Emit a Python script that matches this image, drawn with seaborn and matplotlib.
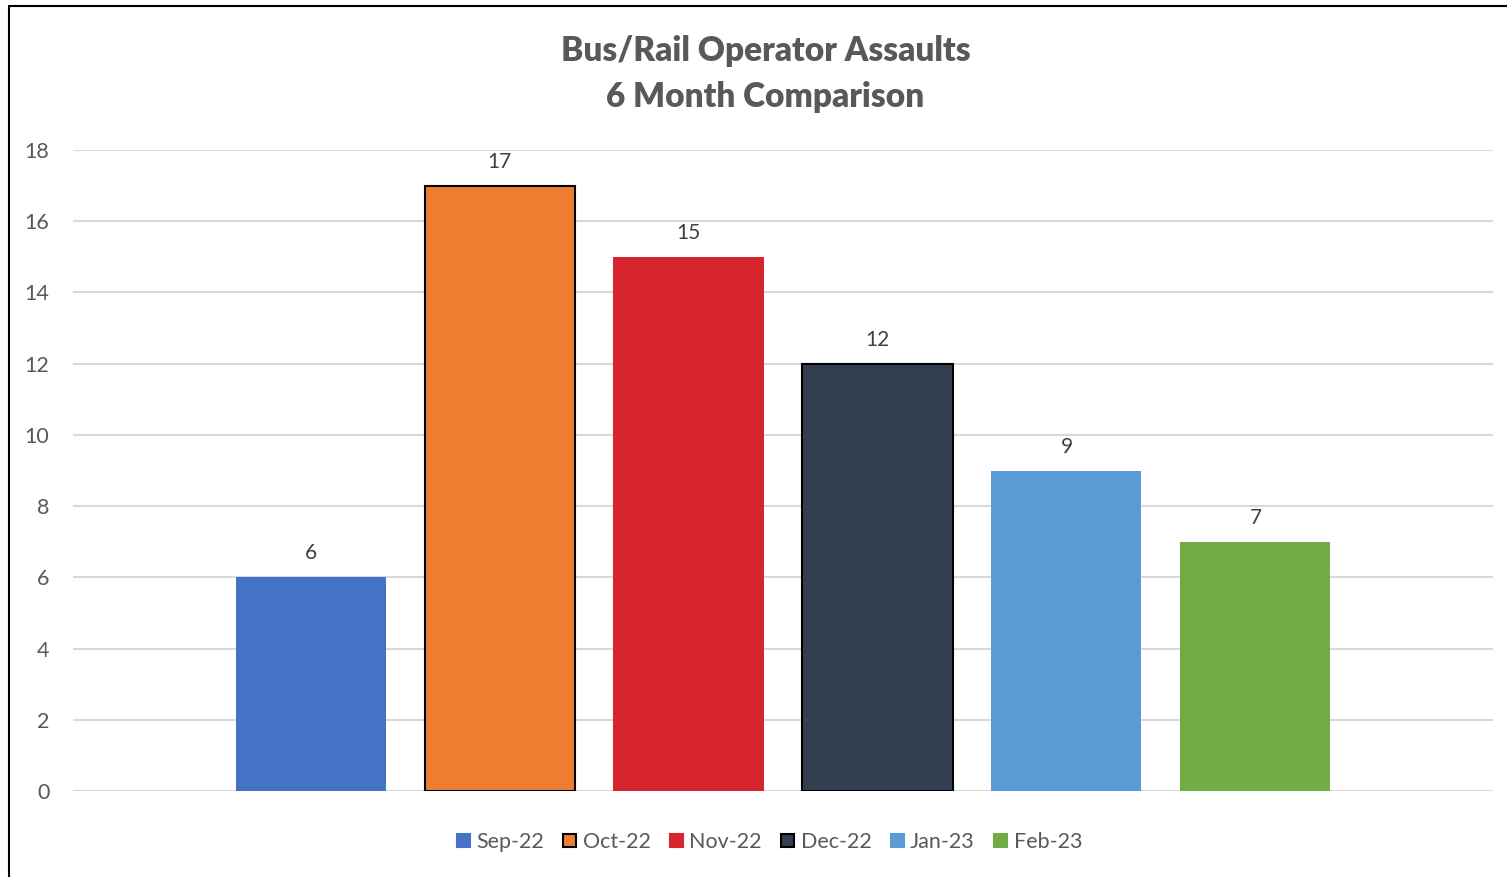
import matplotlib
matplotlib.use("Agg")
import matplotlib.pyplot as plt
import matplotlib.patches as mpatches
from matplotlib.lines import Line2D
import seaborn as sns

# datos del grafico
meses = ["Sep-22", "Oct-22", "Nov-22", "Dec-22", "Jan-23", "Feb-23"]
asaltos = [6, 17, 15, 12, 9, 7]
colores = ["#4472C4", "#ED7D31", "#D7252D", "#333F50", "#5B9BD5", "#70AD47"]
bordes = ["none", "black", "none", "black", "none", "none"]
ticks_y = [0, 2, 4, 6, 8, 10, 12, 14, 16, 18]

sns.set_style("white")
plt.rcParams["font.family"] = ["Lato", "DejaVu Sans"]

fig = plt.figure(figsize=(15.07, 8.77), dpi=100)
ax = fig.add_axes([73 / 1507, 1 - 791 / 877, 1420 / 1507, 641 / 877])

sns.barplot(x=meses, y=asaltos, hue=meses, palette=colores, width=0.794,
            dodge=False, legend=False, ax=ax, saturation=1)

for barra, borde in zip(ax.patches, bordes):
    if borde != "none":
        barra.set_edgecolor(borde)
        barra.set_linewidth(1.5)
    else:
        barra.set_edgecolor("none")

for cont in ax.containers:
    ax.bar_label(cont, padding=10, fontsize=15, color="#404040")

ax.set_xlim(-1.257, 6.257)
ax.set_ylim(0, 18)
ax.set_yticks(ticks_y)
ax.set_xticks([])
ax.set_xlabel("")
ax.set_ylabel("")
ax.grid(axis="y", color="#d9d9d9", linewidth=1.5)
ax.set_axisbelow(True)
for lado in ax.spines.values():
    lado.set_visible(False)
ax.tick_params(axis="y", length=0, pad=17, labelsize=15.5, labelcolor="#595959")

fig.text(0.508, 1 - 51 / 877, "Bus/Rail Operator Assaults", ha="center", va="center",
         fontsize=24, fontweight="heavy", color="#595959")
fig.text(0.508, 1 - 97 / 877, "6 Month Comparison", ha="center", va="center",
         fontsize=24, fontweight="heavy", color="#595959")

# leyenda
handles = [mpatches.Patch(facecolor=c, edgecolor=(b if b != "none" else c), linewidth=1.5)
           for c, b in zip(colores, bordes)]
fig.legend(handles, meses, loc="center", bbox_to_anchor=(0.5106, 1 - 842 / 877), ncol=6,
           frameon=False, fontsize=15.5, labelcolor="#595959", handlelength=0.6,
           handleheight=0.6, handletextpad=0.3, columnspacing=0.9)

# marco del grafico
fig.add_artist(Line2D([8.5 / 1507, 8.5 / 1507], [0, 1 - 5.5 / 877], color="black", linewidth=1.5))
fig.add_artist(Line2D([8.5 / 1507, 1], [1 - 5.5 / 877, 1 - 5.5 / 877], color="black", linewidth=1.5))

fig.savefig("out.png", dpi=100)
